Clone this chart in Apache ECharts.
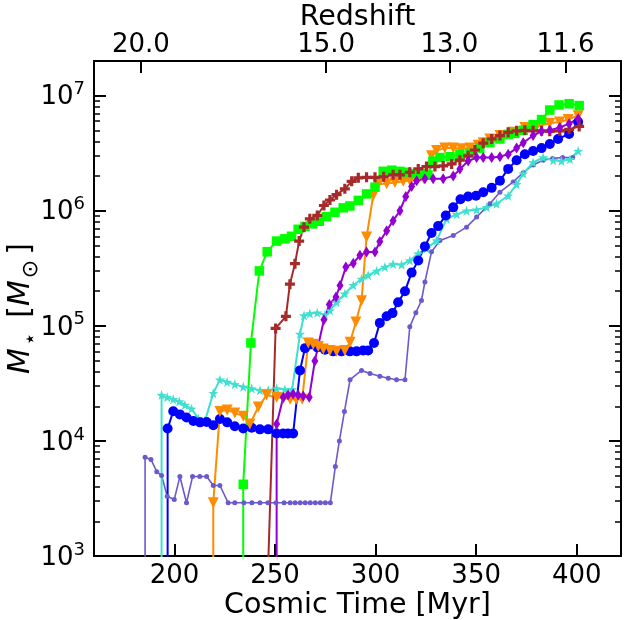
<!DOCTYPE html>
<html><head><meta charset="utf-8">
<script src="https://cdn.jsdelivr.net/npm/echarts@6/dist/echarts.min.js"></script>
<style>html,body{margin:0;padding:0;background:#fff}#c{width:626px;height:620px}</style>
</head><body><div id="c"></div>
<script>
// ---- data (cosmic time [Myr], stellar mass [Msun]) ----
const slateTime = [185.4,185.4,188.3,191.2,193.6,196.4,199.9,202.7,206.0,209.0,212.6,216.0,219.3,222.6,226.7,230,234.5,238.5,242.5,246.5,250.5,254.5,257.5,260,262.5,265,267.5,270,272.5,275,277.5,280,282,284.5,287.3,293,297.2,302.1,306.3,310.4,314.6,317,320,322.8,324.5,327.8,332,338.6,345.2,350.2,356.8,361.8,368.4,373.4,378.3,383.3,388,393,398];
const slateMass = [1,7.2e3,6.9e3,5.4e3,5.0e3,3.3e3,3.1e3,4.9e3,2.9e3,4.9e3,4.9e3,4.9e3,4.1e3,4.1e3,2.9e3,2.9e3,2.9e3,2.9e3,2.9e3,2.9e3,2.9e3,2.9e3,2.9e3,2.9e3,2.9e3,2.9e3,2.9e3,2.9e3,2.9e3,2.9e3,2.9e3,6e3,1.0e4,1.8e4,3.4e4,4.1e4,3.85e4,3.65e4,3.5e4,3.4e4,3.4e4,9.8e4,1.3e5,1.66e5,2.4e5,4.4e5,5.5e5,6.1e5,7.2e5,8.8e5,1.15e6,1.45e6,1.78e6,2.14e6,2.5e6,2.75e6,2.85e6,2.9e6,2.9e6];

const turqTime = [193.6,193.6,196.4,199.4,202.4,205.2,208.5,211.8,215.2,219.3,222.6,226.2,230,234.2,238.4,242.5,246.6,250.8,254.9,258.5,262.4,264.4,267.3,271,274.8,277.3,280.6,284.7,288.9,293,296.3,300.5,304.6,308.7,312.9,317,321.2,325.3,330.3,335.3,340.3,345.2,350.2,355.2,360.1,365.9,370.1,373.4,378.3,383.3,388.3,392.4,396.6,400.7];
const turqMass = [1,2.5e4,2.4e4,2.3e4,2.2e4,2.05e4,1.9e4,1.57e4,1.5e4,2.6e4,3.4e4,3.25e4,3.1e4,2.95e4,2.85e4,2.75e4,2.75e4,2.85e4,2.8e4,2.8e4,8.5e4,1.23e5,1.28e5,1.3e5,1.25e5,1.36e5,1.6e5,1.9e5,2.25e5,2.55e5,2.75e5,3.0e5,3.24e5,3.45e5,3.4e5,3.7e5,4.24e5,4.7e5,5.5e5,8.5e5,9.3e5,1.0e6,1.02e6,1.07e6,1.15e6,1.35e6,1.7e6,2.1e6,2.63e6,2.9e6,2.75e6,2.7e6,2.8e6,3.3e6];

const blueTime = [196.6,196.6,199.4,202.7,206,209.4,212.7,216,219.3,222.6,226.2,230,234.2,238.4,242.5,246.6,250.8,254,256.4,259,262.4,264.9,267.7,271,274.8,278.9,283,287.2,290.5,293.8,296.3,299.2,302.1,305.5,308.4,311.2,314.6,317.9,321.2,324.5,327.8,331.1,334.9,338.6,342.2,346,349.9,353.5,357.7,361.8,365.9,370.1,374.2,378.3,382.5,386.6,390.7,396.2,400.7];
const blueMass = [1,1.28e4,1.81e4,1.7e4,1.6e4,1.49e4,1.45e4,1.46e4,1.37e4,1.55e4,1.45e4,1.34e4,1.28e4,1.3e4,1.26e4,1.26e4,1.16e4,1.16e4,1.16e4,1.16e4,4.1e4,6.4e4,6.9e4,6.5e4,6.2e4,6.0e4,6.0e4,6.0e4,6.0e4,6.1e4,6.1e4,7.1e4,1.06e5,1.21e5,1.29e5,1.6e5,2.0e5,2.9e5,3.7e5,4.9e5,6.4e5,7.35e5,9.1e5,1.07e6,1.26e6,1.33e6,1.35e6,1.45e6,1.58e6,1.82e6,2.31e6,2.75e6,3.1e6,3.3e6,3.5e6,3.8e6,4.2e6,4.65e6,5.9e6];

const orangeTime = [219.3,219.3,222.6,226.2,230,234.2,237.5,241.7,245.8,250.8,254.2,257.5,260.5,263.5,266.5,269,271.5,274,277.3,280.6,284.7,287.3,290.2,293,295.5,298.8,301.3,305.5,309.6,313.7,317,320.5,324,327.8,330.3,334.4,338.6,342.7,346.9,351,353.5,356.8,361.8,368.4,374.2,380,386.6,391.5,395.7,400.7];
const orangeMass = [1,2.9e3,1.8e4,1.86e4,1.75e4,1.64e4,1.4e4,1.97e4,2.5e4,2.4e4,2.35e4,2.3e4,2.3e4,2.3e4,7.1e4,6.9e4,6.6e4,6.3e4,6.1e4,6.0e4,6.1e4,7.2e4,1.08e5,1.65e5,5.9e5,1.35e6,1.7e6,1.72e6,1.76e6,1.8e6,1.82e6,1.85e6,1.9e6,3.0e6,3.33e6,3.5e6,3.5e6,3.45e6,3.5e6,3.7e6,3.9e6,4.2e6,4.5e6,4.8e6,5.3e6,5.4e6,5.75e6,5.9e6,6.2e6,6.7e6];

const limeTime = [234.2,234.2,238,242.2,246.1,250.8,254.9,258.2,261.5,264.9,268.7,272,275.6,279.8,283.9,287.2,291.4,295.5,299.7,303.8,308,312.1,315.4,319.5,322.8,326,328.5,332,337,341.9,346.9,351.8,356.8,361.8,365.9,369.2,373.4,378.3,382.5,386.6,391.2,396.2,401.2];
const limeMass = [1,4.2e3,7.1e4,3.0e5,4.4e5,5.45e5,5.7e5,6.0e5,6.9e5,7.3e5,7.7e5,8.1e5,8.9e5,9.7e5,1.06e6,1.1e6,1.23e6,1.4e6,1.6e6,2.2e6,2.25e6,2.2e6,2.16e6,2.1e6,2.1e6,2.05e6,2.7e6,2.9e6,2.95e6,3.1e6,3.15e6,3.5e6,3.9e6,4.2e6,4.6e6,4.7e6,5.0e6,5.6e6,6.2e6,7.5e6,8.3e6,8.5e6,8.2e6];

const brownTime = [245.8,250.3,255.4,257.4,259.9,262,264.4,267.3,271,274.3,277.3,280.6,284.7,288.1,291.4,295.5,299.7,304,308.7,312.1,317,321.2,325.3,329.5,333.6,337.8,341.9,346,349.4,353.5,357.7,361.8,365.9,370.1,374.2,378.3,382.5,386.6,391.6,396.2,401.2];
const brownMass = [300,9.5e4,1.21e5,2.3e5,3.47e5,5.45e5,7.2e5,8.5e5,9.1e5,1.11e6,1.24e6,1.38e6,1.55e6,1.8e6,1.93e6,1.95e6,1.95e6,1.97e6,2.05e6,2.05e6,2.16e6,2.31e6,2.42e6,2.42e6,2.45e6,2.55e6,2.75e6,3.0e6,3.37e6,3.86e6,4.2e6,4.5e6,4.8e6,4.95e6,5.0e6,4.95e6,4.95e6,4.9e6,4.95e6,5.1e6,5.4e6];

const violetTime = [250.8,250.8,254.1,256.5,259,261.5,264,267,269.8,274.3,277,280.3,282.3,285.2,288.9,292.2,295.5,299.7,302.1,305.5,308.7,312.1,315,317.9,320.4,324.5,328.6,333.6,338.6,341.9,346,350.2,353.5,357.7,361.8,365.9,370.1,373.4,378.3,382.5,386.6,391.6,396.2,400.7];
const violetMass = [1,1.4e4,2.4e4,2.5e4,2.55e4,2.5e4,2.45e4,2.4e4,4.95e4,1.13e5,1.53e5,1.78e5,2.24e5,3.24e5,3.5e5,4.1e5,4.37e5,4.37e5,5.4e5,6.7e5,8.2e5,1.0e6,1.33e6,1.62e6,1.82e6,1.9e6,1.9e6,1.9e6,2.0e6,2.3e6,2.7e6,2.9e6,2.9e6,2.9e6,2.95e6,3.1e6,3.5e6,3.9e6,4.5e6,4.9e6,5.0e6,5.3e6,5.7e6,6.3e6];

const xTicks = [200,250,300,350,400];
const redshiftLabels = ['20.0','15.0','13.0','11.6'];
const redshiftTimes = [183.3,275.4,336.7,394.4];
const yMajorExp = [3,4,5,6,7];
const yMinorFactors = [2,3,4,5,6,7,8,9];

// ---- build ----
const zip = (t, m) => t.map((v, i) => [v, m[i]]);
const FONT = 'DejaVu Sans';
const yMinLog = 3, yMaxLog = Math.log10(2e7);
const minorLog = [];
yMajorExp.forEach(e => yMinorFactors.forEach(f => { const v = Math.log10(f) + e; if (v < yMaxLog) minorLog.push(v); }));

const STAR = 'path://M0,-10L2.35,-3.24L9.51,-3.09L3.8,1.24L5.88,8.09L0,4L-5.88,8.09L-3.8,1.24L-9.51,-3.09L-2.35,-3.24Z';
const PLUS = 'path://M-3.2,-10L3.2,-10L3.2,-3.2L10,-3.2L10,3.2L3.2,3.2L3.2,10L-3.2,10L-3.2,3.2L-10,3.2L-10,-3.2L-3.2,-3.2Z';

function mk(name, t, m, color, symbol, size, lw, extra) {
  return Object.assign({
    name, type: 'line', data: zip(t, m), xAxisIndex: 0, yAxisIndex: 0,
    symbol, symbolSize: size, showAllSymbol: true, clip: true,
    lineStyle: { color, width: lw }, itemStyle: { color, borderWidth: 0 },
    emphasis: { disabled: true }, animation: false
  }, extra || {});
}

const series = [
  mk('a', slateTime, slateMass, '#6A5ACD', 'circle', 5, 1.6),
  mk('b', turqTime, turqMass, '#40E0D0', STAR, 10, 2),
  mk('c', blueTime, blueMass, '#0000FF', 'circle', 10, 2),
  mk('d', orangeTime, orangeMass, '#FF8C00', 'triangle', 11, 2, { symbolRotate: 180 }),
  mk('e', limeTime, limeMass, '#00FF00', 'rect', 9.5, 2),
  mk('f', brownTime, brownMass, '#A52A2A', PLUS, 10, 2),
  mk('g', violetTime, violetMass, '#9400D3', 'diamond', [7, 11], 2)
];

const axisLineStyle = { color: '#000', width: 2 };
const chart = echarts.init(document.getElementById('c'), null, { renderer: 'canvas' });
chart.setOption({
  animation: false,
  backgroundColor: '#fff',
  grid: { left: 94, right: 5, top: 61, bottom: 64, containLabel: false, outerBoundsMode: 'none' },
  xAxis: [
    { type: 'value', position: 'bottom', min: 160, max: 422,
      name: 'Cosmic Time [Myr]', nameLocation: 'middle', nameGap: 35, nameMoveOverlap: false,
      nameTextStyle: { fontFamily: FONT, fontSize: 28.5, color: '#000' },
      axisLine: { show: true, lineStyle: axisLineStyle },
      axisTick: { show: true, inside: true, length: 12, lineStyle: { color: '#000', width: 2 }, customValues: xTicks },
      axisLabel: { show: true, margin: 7, fontFamily: FONT, fontSize: 26, color: '#000', customValues: xTicks },
      splitLine: { show: false }
    },
    { type: 'value', position: 'top', min: 160, max: 422,
      name: 'Redshift', nameLocation: 'middle', nameGap: 29, nameMoveOverlap: false,
      nameTextStyle: { fontFamily: FONT, fontSize: 28.5, color: '#000' },
      axisLine: { show: true, lineStyle: axisLineStyle },
      axisTick: { show: true, inside: true, length: 12, lineStyle: { color: '#000', width: 2 }, customValues: redshiftTimes },
      axisLabel: { show: true, margin: 3, fontFamily: FONT, fontSize: 26, color: '#000', customValues: redshiftTimes,
        formatter: v => { let best = 0; redshiftTimes.forEach((t, i) => { if (Math.abs(t - v) < Math.abs(redshiftTimes[best] - v)) best = i; }); return redshiftLabels[best]; } },
      splitLine: { show: false }
    }
  ],
  yAxis: [
    { type: 'log', logBase: 10, position: 'left', min: 1e3, max: 2e7,
      name: '{i|M}{s|⋆}{b| [}{i|M}{s|⊙}{b|]}', nameLocation: 'middle', nameGap: 52, nameRotate: 90, nameMoveOverlap: false,
      nameTextStyle: { fontFamily: FONT, fontSize: 30, color: '#000',
        rich: { i: { fontFamily: FONT, fontSize: 30, fontStyle: 'italic', color: '#000', verticalAlign: 'bottom', lineHeight: 34, padding: [0, 0, 6, 0] },
                b: { fontFamily: FONT, fontSize: 30, color: '#000', verticalAlign: 'bottom', lineHeight: 34, padding: [0, 0, 6, 2] },
                s: { fontFamily: FONT, fontSize: 22, color: '#000', verticalAlign: 'bottom', lineHeight: 24, padding: [0, 3, 0, 2] } } },
      axisLine: { show: true, lineStyle: axisLineStyle },
      axisTick: { show: true, inside: true, length: 12, lineStyle: { color: '#000', width: 2 } },
      axisLabel: { show: true, margin: 9, color: '#000',
        formatter: v => { const e = Math.log10(v), r = Math.round(e); if (Math.abs(e - r) > 1e-6) return ''; return '{b|10}{s|' + r + '}'; },
        rich: { b: { fontFamily: FONT, fontSize: 26, color: '#000', verticalAlign: 'bottom', lineHeight: 30 },
                s: { fontFamily: FONT, fontSize: 18, color: '#000', verticalAlign: 'bottom', padding: [0, 0, 12, 0], lineHeight: 30 } } },
      splitLine: { show: false }, minorTick: { show: false }
    },
    { type: 'value', position: 'left', min: yMinLog, max: yMaxLog,
      axisLine: { show: false },
      axisTick: { show: true, inside: true, length: 6, lineStyle: { color: '#000', width: 1.5 }, customValues: minorLog },
      axisLabel: { show: false }, splitLine: { show: false }
    },
    { type: 'value', position: 'right', min: yMinLog, max: yMaxLog,
      axisLine: { show: true, lineStyle: axisLineStyle },
      axisTick: { show: true, inside: true, length: 12, lineStyle: { color: '#000', width: 2 }, customValues: yMajorExp },
      axisLabel: { show: false }, splitLine: { show: false }
    },
    { type: 'value', position: 'right', min: yMinLog, max: yMaxLog,
      axisLine: { show: false },
      axisTick: { show: true, inside: true, length: 6, lineStyle: { color: '#000', width: 1.5 }, customValues: minorLog },
      axisLabel: { show: false }, splitLine: { show: false }
    }
  ],
  series
});
</script></body></html>
